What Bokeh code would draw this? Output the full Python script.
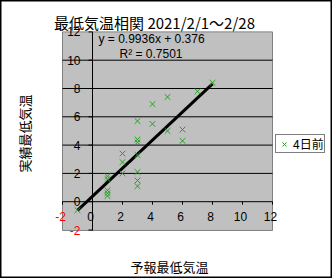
import math
from bokeh.plotting import figure
from bokeh.models import Range1d, Label, Legend, LegendItem
from bokeh.core.properties import value
from bokeh.embed import file_html
from bokeh.resources import INLINE

# ---- data ----
forecast = [-1, 1, 1, 1, 1, 1, 2, 2, 2, 3, 3, 3, 3, 3, 3, 3, 4, 4, 5, 5, 6, 6, 7, 8]
observed = [-0.6, 1.8, 1.6, 0.8, 0.6, 0.4, 3.4, 2.8, 2.0, 5.7, 4.4, 4.2, 3.3, 2.1, 1.5, 1.1,
            6.9, 5.5, 7.4, 5.0, 5.1, 4.3, 7.8, 8.4]
slope = 0.9936
intercept = 0.376
r2 = 0.7501
x_ticks = [-2, 0, 2, 4, 6, 8, 10, 12]
y_ticks = [-2, 0, 2, 4, 6, 8, 10, 12]
title_text = "最低気温相関 2021/2/1～2/28"
x_label = "予報最低気温"
y_label = "実績最低気温"
series_name = "4日前"

# ---- layout constants ----
W, H = 332, 278
PX0, PXS = 92.0, 15.0      # pixel of x=0, pixels per unit
PY0, PYS = 201.2, 14.15    # pixel (from top) of y=0, pixels per unit
X_MIN, X_MAX, Y_MIN, Y_MAX = -2, 12, -2, 12
JP_NAME = "Noto Sans CJK JP"
NUM_NAME = "Liberation Sans"
JP = value(JP_NAME)
NUM = value(NUM_NAME)
GREEN = "#22A022"

p = figure(width=W, height=H, output_backend="svg", toolbar_location=None,
           x_axis_location=None, y_axis_location=None, min_border=0,
           x_range=Range1d(-PX0 / PXS, (W - PX0) / PXS),
           y_range=Range1d((PY0 - H) / PYS, PY0 / PYS))
p.grid.visible = False
p.background_fill_color = "white"
p.border_fill_color = "white"
p.outline_line_color = "black"
p.outline_line_width = 2

# plot area
p.quad(left=[X_MIN], right=[X_MAX], bottom=[Y_MIN - 0.03], top=[Y_MAX],
       fill_color="#C0C0C0", line_color="#808080", line_width=1)

# gridlines (horizontal)
grid_y = [v for v in y_ticks if 0 < v < Y_MAX]
p.segment(x0=[X_MIN] * len(grid_y), x1=[X_MAX] * len(grid_y), y0=grid_y, y1=grid_y,
          line_color="black", line_width=1)

# axes crossing at zero
p.segment(x0=[X_MIN], x1=[X_MAX], y0=[0], y1=[0], line_color="black", line_width=1)
p.segment(x0=[0], x1=[0], y0=[Y_MIN - 0.03], y1=[Y_MAX], line_color="black", line_width=1)

# ticks
tick_len = 3 / PYS
p.segment(x0=x_ticks, x1=x_ticks, y0=[0] * len(x_ticks), y1=[-tick_len] * len(x_ticks),
          line_color="black")
tick_w = 4 / PXS
p.segment(x0=[0] * len(y_ticks), x1=[-tick_w] * len(y_ticks), y0=y_ticks, y1=y_ticks,
          line_color="black")

# tick labels
p.text(x=x_ticks, y=[0] * len(x_ticks), text=[str(v) for v in x_ticks],
       text_color=["red" if v < 0 else "black" for v in x_ticks],
       text_align="center", text_baseline="middle", x_offset=-2, y_offset=15,
       text_font=NUM, text_font_size="12px")
p.text(x=[0] * len(y_ticks), y=y_ticks, text=[str(v) for v in y_ticks],
       text_color=["red" if v < 0 else "black" for v in y_ticks],
       text_align="right", text_baseline="middle", x_offset=-12,
       text_font=NUM, text_font_size="12px")

# trend line
tx = [min(forecast), max(forecast)]
ty = [slope * v + intercept for v in tx]
p.line(tx, ty, line_color="black", line_width=3)

# scatter
sc = p.scatter(forecast, observed, marker="x", size=8, line_color=GREEN, line_width=1)

# equation text
p.add_layout(Label(x=98, y=H - 38, x_units="screen", y_units="screen",
                   text=f"y = {slope}x + {intercept}", text_font=NUM_NAME,
                   text_font_size="12px", text_color="black",
                   text_baseline="middle", text_align="left"))
p.add_layout(Label(x=119, y=H - 53, x_units="screen", y_units="screen",
                   text=f"R² = {r2}", text_font=NUM_NAME, text_font_size="12px",
                   text_color="black", text_baseline="middle", text_align="left"))

# title and axis labels
p.add_layout(Label(x=154, y=H - 22, x_units="screen", y_units="screen", text=title_text,
                   text_font=JP_NAME, text_font_size="15px", text_color="black",
                   text_align="center", text_baseline="middle"))
p.add_layout(Label(x=169, y=H - 266, x_units="screen", y_units="screen", text=x_label,
                   text_font=JP_NAME, text_font_size="13px", text_color="black",
                   text_align="center", text_baseline="middle"))
p.add_layout(Label(x=24, y=H - 133, x_units="screen", y_units="screen", text=y_label,
                   angle=math.pi / 2, text_font=JP_NAME, text_font_size="13px",
                   text_color="black", text_align="center", text_baseline="middle"))

# legend
legend = Legend(items=[LegendItem(label=series_name, renderers=[sc])],
                location=(275, H - 153), orientation="vertical",
                border_line_color="black", border_line_width=1,
                background_fill_color="white", background_fill_alpha=1.0,
                padding=0, margin=0, spacing=0, label_standoff=1,
                glyph_width=16, glyph_height=14, label_height=14,
                label_text_font=JP_NAME, label_text_font_size="12px",
                label_text_color="black", label_text_baseline="middle")
p.add_layout(legend, "center")

open("out.html", "w").write(file_html(p, INLINE))
